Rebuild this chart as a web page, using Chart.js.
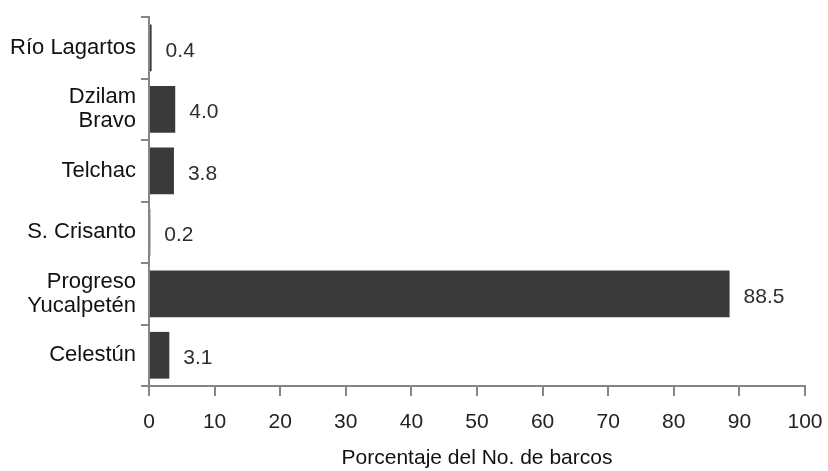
<!DOCTYPE html>
<html>
<head>
<meta charset="utf-8">
<script src="https://cdn.jsdelivr.net/npm/chart.js@4/dist/chart.umd.min.js"></script>
<style>
  html, body { margin: 0; padding: 0; background: #fff; }
  #wrap { width: 828px; height: 471px; position: relative; }
</style>
</head>
<body>
<div id="wrap"><canvas id="c" width="828" height="471"></canvas></div>
<script>
const categories = [["Río Lagartos"], ["Dzilam", "Bravo"], ["Telchac"], ["S. Crisanto"], ["Progreso", "Yucalpetén"], ["Celestún"]];
const values = [0.4, 4.0, 3.8, 0.2, 88.5, 3.1];
const valueLabels = ["0.4", "4.0", "3.8", "0.2", "88.5", "3.1"];
const xTicks = [0, 10, 20, 30, 40, 50, 60, 70, 80, 90, 100];
const xTitle = "Porcentaje del No. de barcos";

const FONT = "'Liberation Sans', Arial, sans-serif";
const AXIS = "#858585";

const valueLabelPlugin = {
  id: 'valueLabels',
  afterDatasetsDraw(chart) {
    const ctx = chart.ctx;
    const meta = chart.getDatasetMeta(0);
    ctx.save();
    ctx.font = "21px " + FONT;
    ctx.fillStyle = "#2e2e2e";
    ctx.textAlign = "left";
    ctx.textBaseline = "middle";
    meta.data.forEach((bar, i) => {
      ctx.fillText(valueLabels[i], bar.x + 14, bar.y + 3);
    });
    ctx.restore();
  }
};

new Chart(document.getElementById('c'), {
  type: 'bar',
  data: {
    labels: categories,
    datasets: [{
      data: values,
      backgroundColor: '#3a3a3a',
      borderWidth: 0,
      categoryPercentage: 1.0,
      barPercentage: 0.76
    }]
  },
  options: {
    indexAxis: 'y',
    responsive: false,
    animation: false,
    layout: { padding: { top: 15, right: 23, bottom: 0, left: 0 } },
    plugins: { legend: { display: false }, tooltip: { enabled: false } },
    scales: {
      x: {
        type: 'linear',
        min: 0, max: 100,
        afterBuildTicks(scale) { scale.ticks = xTicks.map(v => ({ value: v })); },
        afterFit(scale) { scale.height = 85; scale.paddingRight = 0; scale.paddingLeft = 0; },
        border: { display: true, color: AXIS, width: 2 },
        grid: { display: true, drawOnChartArea: false, drawTicks: true, tickLength: 10, color: AXIS, lineWidth: 2 },
        ticks: { color: '#222', font: { family: FONT, size: 21 }, padding: 14, maxRotation: 0, autoSkip: false },
        title: { display: true, text: xTitle, color: '#111', font: { family: FONT, size: 21 }, padding: { top: 4, bottom: 0 } }
      },
      y: {
        type: 'category',
        offset: true,
        afterFit(scale) { scale.width = 149; },
        border: { display: true, color: AXIS, width: 2 },
        grid: { display: true, offset: true, drawOnChartArea: false, drawTicks: true, tickLength: 8, color: AXIS, lineWidth: 2 },
        ticks: { color: '#111', font: { family: FONT, size: 22, lineHeight: 1.1 }, padding: 5, autoSkip: false }
      }
    }
  },
  plugins: [valueLabelPlugin]
});
</script>
</body>
</html>
